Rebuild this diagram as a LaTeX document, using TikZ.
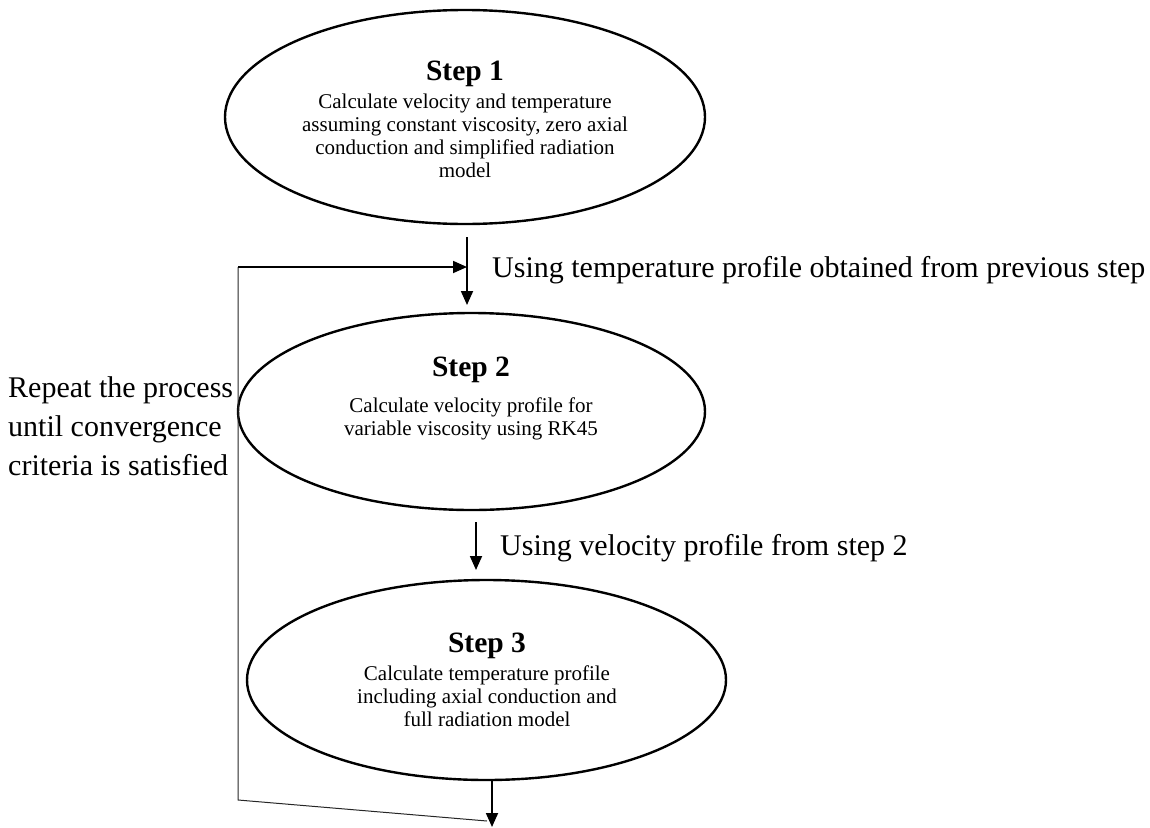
\documentclass[tikz,border=0pt]{standalone}
\usepackage{fontspec}
\setmainfont{Liberation Serif}
\usetikzlibrary{shapes.geometric,arrows.meta}
\tikzset{
  stepell/.style={draw=black,line width=2.4pt,ellipse,inner sep=0pt,outer sep=0pt},
  titletext/.style={inner sep=0pt,font=\fontsize{29.5}{31}\selectfont\bfseries,anchor=base},
  bodytext/.style={inner sep=0pt,font=\fontsize{21}{23}\selectfont,align=center,anchor=north},
  labeltext/.style={inner sep=0pt,font=\fontsize{30}{39}\selectfont,anchor=base west,align=left},
  flowarrow/.style={line width=1.8pt,-{Triangle[length=14pt,width=12pt]}},
  thinline/.style={line width=1pt,draw=black!85}
}
\begin{document}
\begin{tikzpicture}[x=1pt,y=-1pt]
\useasboundingbox (0,0) rectangle (1150,827);
% ellipses
\node[stepell,minimum width=480pt,minimum height=214pt] (s1) at (465,117) {};
\node[stepell,minimum width=467pt,minimum height=197pt] (s2) at (471.5,411.5) {};
\node[stepell,minimum width=479pt,minimum height=200pt] (s3) at (486.5,680) {};
% texts in ellipses
\node[titletext] (t1) at (465,80) {Step 1};
\node[bodytext] (b1) at (465,94) {Calculate velocity and temperature\\assuming constant viscosity, zero axial\\conduction and simplified radiation\\model};
\node[titletext] (t2) at (471,376) {Step 2};
\node[bodytext] (b2) at (471,398) {Calculate velocity profile for\\variable viscosity using RK45};
\node[titletext] (t3) at (487,652) {Step 3};
\node[bodytext] (b3) at (487,666) {Calculate temperature profile\\including axial conduction and\\full radiation model};
% outside labels
\node[labeltext] (l1) at (492,277) {Using temperature profile obtained from previous step};
\node[labeltext] (l2) at (500,555) {Using velocity profile from step 2};
\node[labeltext] (l3) at (8,475) {Repeat the process\\until convergence\\criteria is satisfied};
% connector coordinates
\coordinate (a1s) at (467,237);
\coordinate (a1e) at (467,305);
\coordinate (a2s) at (476,522);
\coordinate (a2e) at (476,570);
\coordinate (a3s) at (492,780);
\coordinate (a3e) at (492,827);
\coordinate (fbA) at (487,821);
\coordinate (fbB) at (238,800);
\coordinate (fbC) at (238,267);
\coordinate (fbD) at (467,267);
% connectors
\draw[flowarrow] (a1s) -- (a1e);
\draw[flowarrow] (a2s) -- (a2e);
\draw[flowarrow] (a3s) -- (a3e);
\draw[thinline] (fbA) -- (fbB) -- (fbC);
\draw[flowarrow] (fbC) -- (fbD);
\end{tikzpicture}
\end{document}
